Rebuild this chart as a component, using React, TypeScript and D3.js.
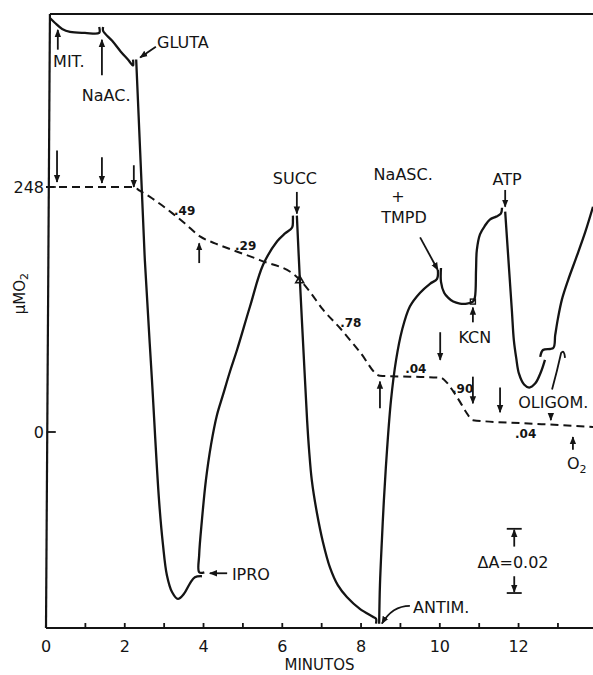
import React from 'react';
import * as d3 from 'd3';

const W = 593;
const H = 675;

// solid trace, pieces between additions: [minutos, valor]
const mitSeg = [[0.1, 419], [0.23, 414], [0.41, 408], [0.61, 405], [0.99, 404], [1.35, 404], [1.35, 410]];
const naacSeg = [[1.45, 410], [1.45, 406], [1.68, 396], [1.9, 385], [2.08, 377], [2.21, 371], [2.21, 377]];
const glutaSeg = [[2.29, 377], [2.39, 285], [2.51, 174], [2.69, 53], [2.87, -69], [2.97, -114], [3.07, -145], [3.2, -162], [3.35, -169], [3.5, -164], [3.66, -153], [3.78, -147], [3.96, -146]];
const iproSeg = [[4.02, -142], [3.89, -142], [3.89, -124], [3.96, -89], [4.06, -49], [4.19, -13], [4.34, 17], [4.49, 37], [4.67, 61], [4.85, 83], [5.18, 127], [5.51, 169], [5.87, 193], [6.07, 201], [6.25, 207], [6.27, 215], [6.27, 219]];
const succSeg = [[6.37, 219], [6.45, 151], [6.55, 73], [6.63, 12], [6.68, -18], [6.75, -49], [6.88, -82], [7.03, -111], [7.21, -137], [7.41, -155], [7.64, -167], [7.97, -179], [8.3, -187], [8.38, -189], [8.38, -194]];
const antimSeg = [[8.46, -194], [8.48, -155], [8.53, -109], [8.58, -69], [8.66, -18], [8.76, 32], [8.89, 73], [9.04, 103], [9.24, 127], [9.5, 141], [9.75, 150], [9.93, 155], [9.95, 164]];
const ascSeg = [[10.03, 166], [10.03, 152], [10.11, 141], [10.21, 136], [10.34, 132], [10.51, 130], [10.69, 130], [10.84, 132], [10.89, 136], [10.92, 164], [10.94, 184], [11.02, 200], [11.15, 209], [11.27, 215], [11.43, 218], [11.55, 221], [11.58, 227]];
const atpSeg = [[11.66, 223], [11.76, 164], [11.83, 123], [11.88, 93], [11.94, 75], [12.01, 59], [12.14, 48], [12.27, 45], [12.42, 49], [12.57, 61], [12.67, 73]];
const oligoSeg = [[12.55, 76], [12.62, 83], [12.88, 85], [12.93, 98], [13.0, 115], [13.1, 134], [13.26, 154], [13.46, 176], [13.69, 202], [13.89, 228]];
const traceSegs = [mitSeg, naacSeg, glutaSeg, iproSeg, succSeg, antimSeg, ascSeg, atpSeg, oligoSeg];

// dashed trace
const o2Trace = [[0.0, 248], [1.2, 248], [2.21, 248], [2.39, 244], [2.64, 238], [2.89, 231], [3.22, 221], [3.53, 211], [3.91, 198], [4.29, 191], [4.75, 184], [5.43, 174], [6.37, 157], [6.7, 142], [7.03, 124], [7.47, 105], [7.97, 81], [8.48, 57], [9.24, 56], [10.01, 55], [10.18, 50], [10.31, 43], [10.52, 30], [10.67, 20], [10.84, 12], [12.04, 9], [13.05, 7], [13.89, 5]];

const rateLabels = [
  { text: '.49', t: 3.25, v: 220 },
  { text: '.29', t: 4.8, v: 184 },
  { text: '.78', t: 7.47, v: 106 },
  { text: '.04', t: 9.12, v: 60 },
  { text: '.90', t: 10.31, v: 39 },
  { text: '.04', t: 11.91, v: -6 },
];

// addition arrows [t, from, to]
const arrows = [
  [0.3, 387, 407], [1.42, 361, 397], [0.28, 285, 253], [1.42, 278, 252], [2.23, 270, 248],
  [3.89, 171, 191], [6.37, 243, 221], [11.66, 245, 228], [10.84, 111, 126], [8.48, 24, 51],
  [10.01, 101, 73], [10.84, 56, 29], [11.53, 45, 20], [12.82, 19, 12], [13.38, -18, -5],
];

const labels = [
  { text: 'MIT.', t: 0.18, v: 369, anchor: 'start' },
  { text: 'NaAC.', t: 0.91, v: 335, anchor: 'start' },
  { text: 'GLUTA', t: 2.82, v: 389, anchor: 'start' },
  { text: 'SUCC', t: 6.32, v: 251, anchor: 'middle' },
  { text: 'NaASC.', t: 9.07, v: 255, anchor: 'middle' },
  { text: '+', t: 8.94, v: 233, anchor: 'middle' },
  { text: 'TMPD', t: 9.09, v: 212, anchor: 'middle' },
  { text: 'ATP', t: 11.71, v: 250, anchor: 'middle' },
  { text: 'KCN', t: 10.89, v: 90, anchor: 'middle' },
  { text: 'OLIGOM.', t: 11.99, v: 24, anchor: 'start' },
  { text: 'IPRO', t: 4.72, v: -150, anchor: 'start' },
  { text: 'ANTIM.', t: 9.32, v: -183, anchor: 'start' },
  { text: 'ΔA=0.02', t: 11.86, v: -138, anchor: 'middle' },
];

// pointer arrows [t1, v1, t2, v2]
const pointers = [
  [2.79, 390, 2.39, 379],
  [9.5, 197, 9.95, 164],
  [4.6, -143, 4.16, -143],
];

const xTicks = d3.range(0, 14);
const xTickLabels = [0, 2, 4, 6, 8, 10, 12];
const yTickLabels = [248, 0];

const font = "'DejaVu Sans', sans-serif";
const ink = '#141414';

export default function App() {
  const x = d3.scaleLinear().domain([0, 13.89]).range([46, W]);
  const y = d3.scaleLinear().domain([-198.4, 423.1]).range([628, 14]);
  const line = d3.line<number[]>()
    .x(d => x(d[0]))
    .y(d => y(d[1]))
    .curve(d3.curveCatmullRom.alpha(0.5));
  const dashLine = d3.line<number[]>()
    .x(d => x(d[0]))
    .y(d => y(d[1]))
    .curve(d3.curveMonotoneX);

  const scaleT = 11.89;
  const bw = 0.19;

  return (
    <svg width={W} height={H} style={{ position: 'absolute', left: 0, top: 0, background: '#fff' }}>
      <defs>
        <marker id="ah" viewBox="0 0 10 10" refX="9" refY="5" markerWidth="8" markerHeight="8"
          markerUnits="userSpaceOnUse" orient="auto">
          <path d="M0,1 L10,5 L0,9 z" fill={ink} />
        </marker>
      </defs>
      <rect width={W} height={H} fill="#fff" />

      {/* frame */}
      <line x1={x(0.1)} y1={y(423.1)} x2={x(0)} y2={y(-198.4)} stroke={ink} strokeWidth={2.2} />
      <line x1={x(0.1)} y1={y(423.1)} x2={W} y2={y(423.1)} stroke={ink} strokeWidth={2} />
      <line x1={x(0)} y1={y(-198.4)} x2={W} y2={y(-198.4)} stroke={ink} strokeWidth={2.2} />
      {xTicks.map(t => (
        <line key={t} x1={x(t)} x2={x(t)} y1={y(-198.4)} y2={y(-198.4) - 5} stroke={ink} strokeWidth={1.8} />
      ))}
      {xTickLabels.map(t => (
        <text key={t} x={x(t)} y={652} textAnchor="middle" fontFamily={font} fontSize={16} fill={ink}>{t}</text>
      ))}
      <text x={(x(0) + W) / 2} y={670} textAnchor="middle" fontFamily={font} fontSize={15} fill={ink}>MINUTOS</text>

      {yTickLabels.map(v => (
        <g key={v}>
          <line x1={x(0.02)} x2={x(0.02) + 9} y1={y(v)} y2={y(v)} stroke={ink} strokeWidth={1.8} />
          <text x={x(0) - 2} y={y(v) + 6} textAnchor="end" fontFamily={font} fontSize={16} fill={ink}>{v}</text>
        </g>
      ))}
      <text transform={`translate(25,${y(140)}) rotate(-90)`} textAnchor="middle" fontFamily={font} fontSize={15} fill={ink}>
        μMO<tspan fontSize={11} dy={3}>2</tspan>
      </text>

      {/* traces */}
      {traceSegs.map((s, i) => (
        <path key={i} d={line(s) || ''} fill="none" stroke={ink} strokeWidth={2.3} strokeLinejoin="round" />
      ))}
      <path d={dashLine(o2Trace) || ''} fill="none" stroke={ink} strokeWidth={2} strokeDasharray="8,5" />
      <path d={`M${x(6.34)},${y(151)} l4,-7 l4,7 z`} fill="none" stroke={ink} strokeWidth={1.6} />
      <rect x={x(10.84) - 2.5} y={y(132) - 2.5} width={5} height={5} fill="none" stroke={ink} strokeWidth={1.4} />

      {rateLabels.map((r, i) => (
        <text key={i} x={x(r.t)} y={y(r.v)} fontFamily={font} fontSize={12} fontWeight="bold" fill={ink}>{r.text}</text>
      ))}

      {arrows.map(([t, a, b], i) => (
        <line key={i} x1={x(t)} x2={x(t)} y1={y(a)} y2={y(b)} stroke={ink} strokeWidth={1.8} markerEnd="url(#ah)" />
      ))}
      {pointers.map(([t1, v1, t2, v2], i) => (
        <line key={i} x1={x(t1)} y1={y(v1)} x2={x(t2)} y2={y(v2)} stroke={ink} strokeWidth={1.8} markerEnd="url(#ah)" />
      ))}
      <path d={`M${x(9.24)},${y(-176)} Q${x(8.79)},${y(-176)} ${x(8.53)},${y(-194)}`} fill="none" stroke={ink}
        strokeWidth={1.8} markerEnd="url(#ah)" />
      <path d={`M${x(12.85)},${y(43)} Q${x(12.98)},${y(62)} ${x(13.08)},${y(80)} Q${x(13.16)},${y(84)} ${x(13.18)},${y(75)}`}
        fill="none" stroke={ink} strokeWidth={1.8} />

      {labels.map((l, i) => (
        <text key={i} x={x(l.t)} y={y(l.v)} textAnchor={l.anchor} fontFamily={font} fontSize={16} fill={ink}>{l.text}</text>
      ))}
      <text x={x(13.23)} y={y(-37)} fontFamily={font} fontSize={16} fill={ink}>
        O<tspan fontSize={11} dy={4}>2</tspan>
      </text>

      {/* scale bar */}
      <line x1={x(scaleT - bw)} x2={x(scaleT + bw)} y1={y(-98)} y2={y(-98)} stroke={ink} strokeWidth={1.8} />
      <line x1={x(scaleT)} x2={x(scaleT)} y1={y(-116)} y2={y(-99)} stroke={ink} strokeWidth={1.8} markerEnd="url(#ah)" />
      <line x1={x(scaleT)} x2={x(scaleT)} y1={y(-146)} y2={y(-162)} stroke={ink} strokeWidth={1.8} markerEnd="url(#ah)" />
      <line x1={x(scaleT - bw)} x2={x(scaleT + bw)} y1={y(-163)} y2={y(-163)} stroke={ink} strokeWidth={1.8} />
    </svg>
  );
}
